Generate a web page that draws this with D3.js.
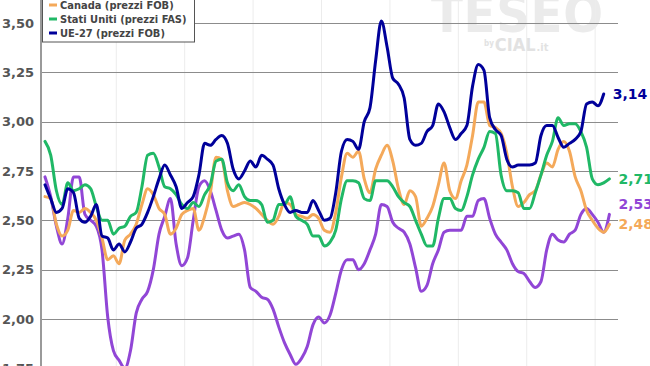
<!DOCTYPE html>
<html>
<head>
<meta charset="utf-8">
<script src="https://cdn.jsdelivr.net/npm/d3@7"></script>
<style>
html, body { margin: 0; padding: 0; background: #fff; overflow: hidden; }
svg { display: block; }
</style>
</head>
<body>
<svg id="chart"></svg>
<script>
// tick values of the price axis
const yTicks = [1.75, 2.00, 2.25, 2.50, 2.75, 3.00, 3.25, 3.50];

// legend (first entry is out of the picture)
const legendNames = ["Canada (prezzi FOB)", "Stati Uniti (prezzi FAS)", "UE-27 (prezzi FOB)"];

// monthly values
const seriesPurple = [2.72,2.62,2.47,2.38,2.51,2.72,2.72,2.53,2.50,2.47,
  2.35,2.01,1.84,1.79,1.75,1.84,2.03,2.10,2.14,2.25,
  2.43,2.52,2.61,2.38,2.27,2.31,2.50,2.67,2.70,2.65,
  2.55,2.45,2.41,2.42,2.43,2.35,2.16,2.14,2.11,2.10,
  2.05,1.96,1.88,1.82,1.77,1.80,1.86,1.97,2.01,1.98,
  2.02,2.13,2.25,2.30,2.30,2.25,2.28,2.35,2.43,2.58,
  2.57,2.49,2.46,2.44,2.38,2.26,2.14,2.17,2.28,2.35,
  2.44,2.45,2.45,2.45,2.52,2.52,2.60,2.61,2.51,2.43,
  2.39,2.35,2.28,2.24,2.23,2.19,2.16,2.19,2.35,2.43,
  2.40,2.39,2.43,2.45,2.53,2.56,2.53,2.49,2.44,2.53];

const seriesCanada = [2.62,2.61,2.48,2.42,2.45,2.55,2.54,2.56,2.54,2.50,
  2.41,2.30,2.32,2.28,2.40,2.43,2.48,2.58,2.66,2.63,
  2.56,2.53,2.43,2.46,2.53,2.55,2.56,2.45,2.52,2.64,
  2.82,2.81,2.65,2.57,2.58,2.59,2.58,2.56,2.53,2.50,
  2.48,2.52,2.59,2.58,2.53,2.52,2.51,2.53,2.51,2.45,
  2.44,2.54,2.72,2.84,2.82,2.85,2.71,2.64,2.76,2.83,
  2.88,2.80,2.66,2.58,2.65,2.62,2.47,2.51,2.57,2.68,
  2.79,2.65,2.61,2.70,2.78,2.93,3.10,3.10,2.98,2.97,
  2.94,2.84,2.67,2.57,2.59,2.63,2.65,2.73,2.79,2.77,
  2.86,2.90,2.85,2.72,2.65,2.55,2.50,2.46,2.44,2.48];

const seriesUsa = [2.90,2.83,2.65,2.58,2.69,2.65,2.66,2.68,2.66,2.57,
  2.50,2.50,2.43,2.46,2.47,2.52,2.54,2.67,2.83,2.84,
  2.77,2.67,2.66,2.63,2.58,2.56,2.59,2.57,2.63,2.68,
  2.80,2.81,2.69,2.65,2.68,2.62,2.60,2.60,2.58,2.49,
  2.50,2.58,2.58,2.62,2.52,2.50,2.48,2.42,2.42,2.37,
  2.39,2.45,2.61,2.70,2.70,2.69,2.61,2.60,2.70,2.70,
  2.70,2.67,2.62,2.59,2.57,2.50,2.43,2.37,2.37,2.51,
  2.61,2.61,2.56,2.55,2.62,2.73,2.81,2.87,2.95,2.94,
  2.73,2.65,2.65,2.64,2.56,2.56,2.64,2.73,2.83,2.90,
  3.02,2.98,2.99,2.99,2.95,2.87,2.71,2.68,2.69,2.71];

const seriesUe = [2.68,2.61,2.54,2.56,2.66,2.64,2.51,2.49,2.52,2.58,
  2.42,2.41,2.35,2.38,2.34,2.39,2.46,2.48,2.54,2.62,
  2.71,2.78,2.73,2.67,2.56,2.59,2.62,2.73,2.89,2.88,
  2.91,2.93,2.89,2.76,2.71,2.75,2.80,2.77,2.83,2.81,
  2.78,2.66,2.58,2.54,2.55,2.54,2.54,2.60,2.55,2.50,
  2.51,2.64,2.85,2.91,2.90,2.86,3.00,3.07,3.31,3.51,
  3.38,3.22,3.19,3.12,2.91,2.88,2.89,2.95,2.98,3.09,
  3.05,2.97,2.91,2.94,2.98,3.18,3.29,3.26,3.02,2.96,
  2.93,2.81,2.77,2.78,2.78,2.78,2.79,2.93,2.98,2.98,
  2.92,2.87,2.89,2.91,2.95,3.09,3.10,3.08,3.14];

const width = 650, height = 366;
const svg = d3.select("#chart").attr("width", width).attr("height", height);

const it = d3.formatLocale({decimal: ",", thousands: ".", grouping: [3], currency: ["", " €"]});
const fmt = it.format(".2f");

const x = d3.scaleLinear().domain([0, 98]).range([45, 45 + 98 * 5.701]);
const y = d3.scaleLinear().domain([1.75, 3.5]).range([368.3, 23]);

const series = [
  {values: seriesPurple, color: "#9146d6"},
  {values: seriesCanada, color: "#f4a95a"},
  {values: seriesUsa, color: "#20b866"},
  {values: seriesUe, color: "#00009a"}
];

// watermark
const wmFont = "'DejaVu Sans Condensed', 'DejaVu Sans'";
svg.append("text")
  .attr("x", 431).attr("y", 32)
  .attr("font-family", wmFont)
  .attr("font-stretch", "condensed")
  .attr("font-weight", "bold")
  .attr("font-size", 52)
  .attr("textLength", 172)
  .attr("fill", "#ebebeb")
  .text("TESEO");
let wx = 484;
[["by", 8, 46], ["CIAL", 18, 51], [".it", 11, 51]].forEach(p => {
  const t = svg.append("text")
    .attr("x", wx).attr("y", p[2])
    .attr("font-family", wmFont)
    .attr("font-weight", "bold")
    .attr("font-size", p[1])
    .attr("fill", "#e2e2e2")
    .text(p[0]);
  wx += t.node().getComputedTextLength() + 1;
});

// vertical grid (one line a year)
svg.append("g")
  .selectAll("line")
  .data(d3.range(12.5, 98, 12))
  .enter().append("line")
  .attr("x1", d => x(d)).attr("x2", d => x(d))
  .attr("y1", 0).attr("y2", height)
  .attr("stroke", "#ececec")
  .attr("stroke-width", 1);

// horizontal grid + labels
const yAxis = svg.append("g");
yAxis.selectAll("line")
  .data(yTicks)
  .enter().append("line")
  .attr("x1", 41).attr("x2", 618)
  .attr("y1", d => Math.round(y(d)) + 0.5).attr("y2", d => Math.round(y(d)) + 0.5)
  .attr("stroke", "#8c8c8c")
  .attr("stroke-width", 1);
yAxis.selectAll("text")
  .data(yTicks)
  .enter().append("text")
  .attr("x", 34)
  .attr("y", d => y(d))
  .attr("dy", "0.36em")
  .attr("text-anchor", "end")
  .attr("font-family", "'DejaVu Sans', Verdana, sans-serif")
  .attr("font-weight", "bold")
  .attr("font-size", 13)
  .attr("fill", "#555")
  .text(d => fmt(d));

svg.append("line")
  .attr("x1", 41).attr("x2", 41)
  .attr("y1", 0).attr("y2", height)
  .attr("stroke", "#9a9a9a")
  .attr("stroke-width", 2);

// lines
const line = d3.line()
  .x((d, i) => x(i))
  .y(d => y(d))
  .curve(d3.curveMonotoneX);

svg.append("g")
  .attr("fill", "none")
  .attr("stroke-width", 3)
  .attr("stroke-linejoin", "round")
  .attr("stroke-linecap", "round")
  .selectAll("path")
  .data(series)
  .enter().append("path")
  .attr("stroke", d => d.color)
  .attr("d", d => line(d.values));

// end labels, pushed apart when too close
const ends = series.map(s => {
  const i = s.values.length - 1;
  return {x: x(i) + 9, y: y(s.values[i]), v: s.values[i], color: s.color};
});
ends.sort((a, b) => b.y - a.y);
for (let k = 1; k < ends.length; k++) {
  if (ends[k].y > ends[k - 1].y - 20) ends[k].y = ends[k - 1].y - 20;
}
svg.append("g")
  .selectAll("text")
  .data(ends)
  .enter().append("text")
  .attr("x", d => d.x)
  .attr("y", d => d.y)
  .attr("dy", "0.36em")
  .attr("font-family", "'DejaVu Sans', Verdana, sans-serif")
  .attr("font-weight", "bold")
  .attr("font-size", 14)
  .attr("fill", d => d.color)
  .text(d => fmt(d.v));

// legend box, top is above the picture
const legend = svg.append("g");
legend.append("rect")
  .attr("x", 42.5).attr("y", -20)
  .attr("width", 152).attr("height", 62)
  .attr("fill", "#fff")
  .attr("stroke", "#555")
  .attr("stroke-width", 1);
const item = legend.selectAll("g.item")
  .data(legendNames)
  .enter().append("g")
  .attr("class", "item")
  .attr("transform", (d, i) => `translate(0, ${5 + i * 14})`);
item.append("line")
  .attr("x1", 49).attr("x2", 57)
  .attr("stroke", (d, i) => series[i + 1].color)
  .attr("stroke-width", 3);
item.append("text")
  .attr("x", 60)
  .attr("dy", "0.36em")
  .attr("font-family", "'DejaVu Sans Condensed', 'DejaVu Sans'")
  .attr("font-stretch", "condensed")
  .attr("font-weight", "bold")
  .attr("font-size", 11)
  .attr("fill", "#444")
  .text(d => d);
</script>
</body>
</html>
